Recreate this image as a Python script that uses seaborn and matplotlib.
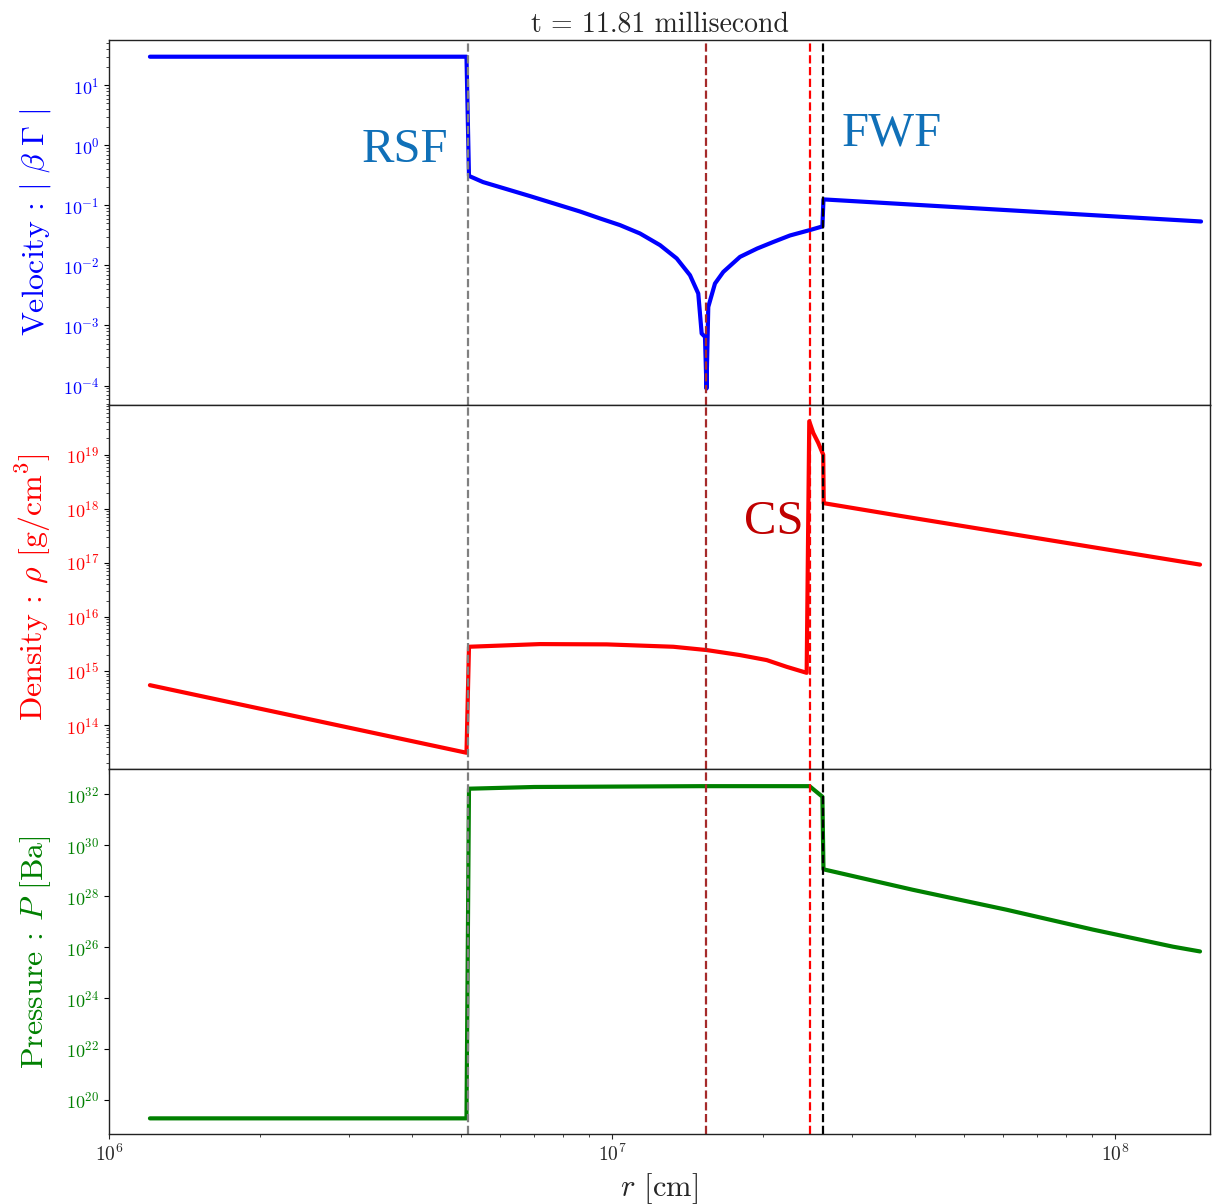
import numpy as np
import pandas as pd
import matplotlib
matplotlib.use("Agg")
import matplotlib.pyplot as plt
import seaborn as sns
from matplotlib.ticker import LogLocator

# ---------------- data ----------------
r_vel = [1.206e6, 5.137e6, 5.196e6, 5.54e6, 6.87e6, 8.63e6, 9.466e6, 1.0373e7, 1.1367e7,
         1.2459e7, 1.3447e7, 1.4290e7, 1.4843e7, 1.5076e7, 1.5306e7, 1.5412e7, 1.5539e7,
         1.6023e7, 1.6645e7, 1.7968e7, 1.9425e7, 2.0898e7, 2.2592e7, 2.4751e7, 2.62e7,
         2.633e7, 1.483e8]
velocity = [30, 30, 0.31, 0.245, 0.143, 0.0794, 0.0607, 0.0470, 0.0341,
            0.0218, 0.0131, 0.00689, 0.00341, 7.36e-4, 6.46e-4, 8.9e-5, 2.04e-3,
            5.0e-3, 7.8e-3, 0.0139, 0.0191, 0.0245, 0.0316, 0.0389, 0.0447,
            0.126, 0.054]

r_rho = [1.206e6, 5.137e6, 5.196e6, 7.19e6, 9.76e6, 1.3243e7, 1.5426e7, 1.7968e7,
         2.0304e7, 2.2254e7, 2.438e7, 2.4672e7, 2.5128e7, 2.5709e7, 2.630e7, 2.636e7,
         3.74e7, 1.476e8]
density = [5.5e14, 3.1e13, 2.82e15, 3.16e15, 3.12e15, 2.82e15, 2.45e15, 1.98e15,
           1.60e15, 1.20e15, 9.3e14, 4.14e19, 2.52e19, 1.65e19, 1.0e19, 1.27e18,
           7.4e17, 9.3e16]

r_p = [1.206e6, 5.137e6, 5.196e6, 7.0e6, 1.5e7, 2.47e7, 2.62e7, 2.633e7, 3.96e7,
       6.09e7, 9.04e7, 1.303e8, 1.476e8]
pressure = [1.9e19, 1.9e19, 1.67e32, 1.95e32, 2.1e32, 2.1e32, 8.1e31, 1.14e29, 1.8e28,
            2.95e27, 4.9e26, 1.05e26, 6.8e25]

front_r = [5.17e6, 1.54e7, 2.47e7, 2.63e7]
front_colors = ["gray", "brown", "red", "black"]

panel_labels = ["Velocity : $|\\ \\beta\\ \\Gamma\\ |$",
                "Density : $\\rho$ [g/cm$^3$]",
                "Pressure : $P$ [Ba]"]
panel_colors = ["blue", "red", "green"]
title_text = "t = 11.81 millisecond"
pressure_ticks = [1e20, 1e22, 1e24, 1e26, 1e28, 1e30, 1e32]

# ---------------- style ----------------
sns.set_style("ticks")
plt.rcParams["font.family"] = ["cmr10", "DejaVu Serif"]
plt.rcParams["mathtext.fontset"] = "cm"
plt.rcParams["axes.formatter.use_mathtext"] = True
plt.rcParams["axes.unicode_minus"] = False

fig = plt.figure(figsize=(12.14, 12.04), dpi=100)
gs = fig.add_gridspec(3, 1, left=0.0898, right=0.9967, top=0.9668, bottom=0.0581, hspace=0)
axes = [fig.add_subplot(gs[i]) for i in range(3)]
for a in axes[1:]:
    a.sharex(axes[0])

frames = [pd.DataFrame({"r": r_vel, "v": velocity}),
          pd.DataFrame({"r": r_rho, "v": density}),
          pd.DataFrame({"r": r_p, "v": pressure})]
ylims = [(4.8e-5, 57), (1.53e13, 8.4e19), (4.6e18, 9.6e32)]

for ax, df, col, lab, yl in zip(axes, frames, panel_colors, panel_labels, ylims):
    ax.set_xscale("log")
    ax.set_yscale("log")
    sns.lineplot(data=df, x="r", y="v", ax=ax, color=col, lw=3, sort=False,
                 estimator=None, legend=False)
    for fr, fc in zip(front_r, front_colors):
        ax.axvline(fr, color=fc, ls="--", lw=1.6)
    ax.set_ylim(*yl)
    ax.set_ylabel(lab, color=col, fontsize=23)
    ax.tick_params(axis="y", colors="black", labelcolor=col, labelsize=13)
    ax.tick_params(axis="x", labelsize=14)
    ax.set_xlabel("")
    for s in ax.spines.values():
        s.set_color("#222222")
        s.set_linewidth(1.0)

axes[0].set_xlim(1e6, 1.545e8)
axes[0].tick_params(axis="x", labelbottom=False)
axes[1].tick_params(axis="x", labelbottom=False)
axes[2].set_xlabel("$r$ [cm]", fontsize=22)
axes[0].set_title(title_text, fontsize=20, pad=6)

axes[2].yaxis.set_major_locator(LogLocator(base=10, numticks=20, subs=[1.0]))
axes[2].set_yticks(pressure_ticks)
axes[2].set_ylim(*ylims[2])

for ax in axes:
    ax.yaxis.set_label_coords(-0.051, 0.5)

ann_font = {"family": ["Liberation Serif"], "fontsize": 35}
axes[0].text(3.88e6, 0.85, "RSF", color="#1070b8", ha="center", va="center", **ann_font)
axes[0].text(3.6e7, 1.6, "FWF", color="#1070b8", ha="center", va="center", **ann_font)
axes[1].text(2.1e7, 5.8e17, "CS", color="#c00000", ha="center", va="center", **ann_font)

fig.savefig("out.png", dpi=100)
